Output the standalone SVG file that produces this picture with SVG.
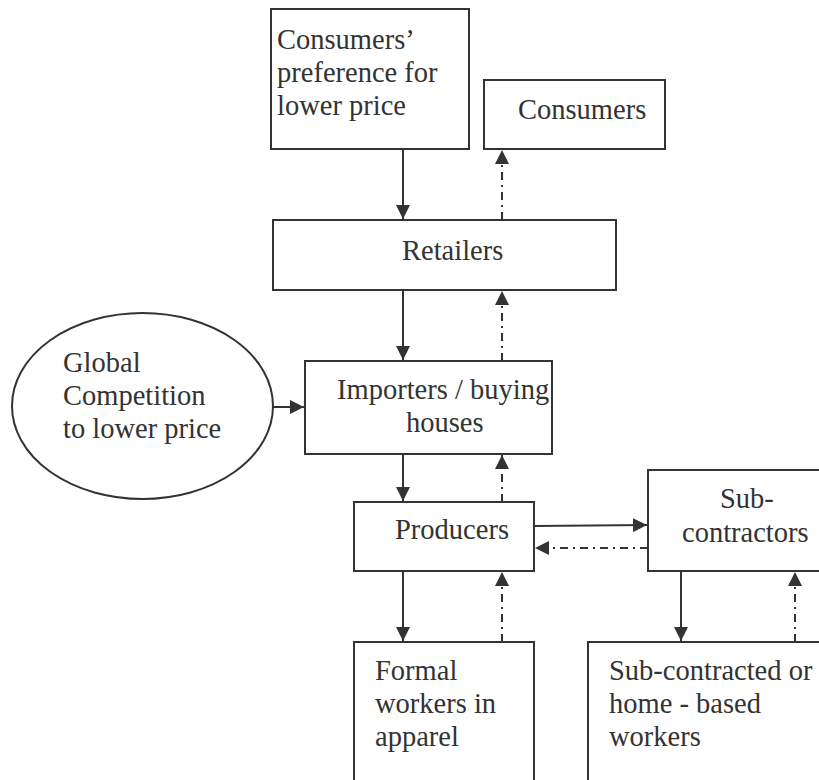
<svg xmlns="http://www.w3.org/2000/svg" width="819" height="780" viewBox="0 0 819 780">
  <defs>
    <style>
      .box { fill: #ffffff; stroke: #333333; stroke-width: 2; }
      .lbl { font-family: "Liberation Serif", "Times New Roman", serif; font-size: 28.5px; fill: #333333; }
      .flow { stroke: #333333; stroke-width: 2; fill: none; }
      .solid { marker-end: url(#head); }
      .dashdot { stroke-dasharray: 8 5 2 5; marker-end: url(#head); }
    </style>
    <marker id="head" viewBox="0 0 14 14" refX="14" refY="7" markerWidth="14" markerHeight="14" markerUnits="userSpaceOnUse" orient="auto">
      <path d="M0,0 L14,7 L0,14 Z" fill="#333333"/>
    </marker>
  </defs>
  <rect width="819" height="780" fill="#ffffff"/>

  <!-- nodes -->
  <g id="preference">
    <rect class="box" x="271" y="9" width="198" height="140"/>
    <text class="lbl" x="277" y="49">Consumers’</text>
    <text class="lbl" x="277" y="82">preference for</text>
    <text class="lbl" x="277" y="115">lower price</text>
  </g>
  <g id="consumers">
    <rect class="box" x="484" y="80" width="181" height="69"/>
    <text class="lbl" x="518" y="119">Consumers</text>
  </g>
  <g id="retailers">
    <rect class="box" x="273" y="220" width="343" height="70"/>
    <text class="lbl" x="402" y="260">Retailers</text>
  </g>
  <g id="global-competition">
    <ellipse class="box" cx="142.5" cy="406" rx="130.5" ry="93"/>
    <text class="lbl" x="63" y="372">Global</text>
    <text class="lbl" x="63" y="405">Competition</text>
    <text class="lbl" x="63" y="438">to lower price</text>
  </g>
  <g id="importers">
    <rect class="box" x="305" y="361" width="247" height="93"/>
    <text class="lbl" x="337" y="399">Importers / buying</text>
    <text class="lbl" x="406" y="432">houses</text>
  </g>
  <g id="producers">
    <rect class="box" x="354" y="502" width="180" height="69"/>
    <text class="lbl" x="395" y="539">Producers</text>
  </g>
  <g id="subcontractors">
    <rect class="box" x="648" y="470" width="180" height="101"/>
    <text class="lbl" x="720" y="508">Sub-</text>
    <text class="lbl" x="682" y="542">contractors</text>
  </g>
  <g id="formal-workers">
    <rect class="box" x="354" y="642" width="180" height="150"/>
    <text class="lbl" x="375" y="680">Formal</text>
    <text class="lbl" x="375" y="713">workers in</text>
    <text class="lbl" x="375" y="746">apparel</text>
  </g>
  <g id="home-based-workers">
    <rect class="box" x="588" y="642" width="240" height="150"/>
    <text class="lbl" x="609" y="680">Sub-contracted or</text>
    <text class="lbl" x="609" y="713">home - based</text>
    <text class="lbl" x="609" y="746">workers</text>
  </g>

  <!-- connectors: solid = pressure downwards, dash-dot = flow back upwards -->
  <g id="connectors">
    <line class="flow solid" x1="403" y1="149" x2="403" y2="219"/>
    <line class="flow dashdot" x1="502" y1="220" x2="502" y2="150"/>
    <line class="flow solid" x1="403" y1="290" x2="403" y2="360"/>
    <line class="flow dashdot" x1="502" y1="361" x2="502" y2="291"/>
    <line class="flow solid" x1="273" y1="407" x2="304" y2="407"/>
    <line class="flow solid" x1="403" y1="454" x2="403" y2="501"/>
    <line class="flow dashdot" x1="502" y1="502" x2="502" y2="455"/>
    <line class="flow solid" x1="534" y1="526" x2="647" y2="525"/>
    <line class="flow dashdot" x1="648" y1="548" x2="535" y2="548"/>
    <line class="flow solid" x1="403" y1="571" x2="403" y2="641"/>
    <line class="flow dashdot" x1="502" y1="642" x2="502" y2="572"/>
    <line class="flow solid" x1="681" y1="571" x2="681" y2="641"/>
    <line class="flow dashdot" x1="795" y1="642" x2="795" y2="572"/>
  </g>
</svg>
